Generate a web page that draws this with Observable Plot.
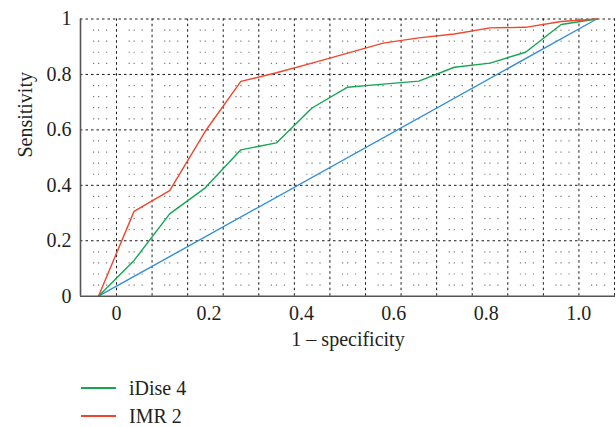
<!DOCTYPE html>
<html>
<head>
<meta charset="utf-8">
<script src="https://cdn.jsdelivr.net/npm/d3@7"></script>
<script src="https://cdn.jsdelivr.net/npm/@observablehq/plot@0.6"></script>
<style>
  html, body { margin: 0; padding: 0; background: #fff; }
  #legend { font-family: "Liberation Serif", serif; font-size: 20px; color: #231f20; margin-left: 81px; padding-top: 9px; }
  .row { display: flex; align-items: center; height: 28px; }
  .sw { display: inline-block; width: 35px; height: 1.5px; margin-right: 13px; }
</style>
</head>
<body>
<div id="chart"></div>
<div id="legend"></div>
<script>
// ---- data ----
const fpr = [-0.039, 0.038, 0.115, 0.192, 0.269, 0.346, 0.423, 0.500, 0.577, 0.654, 0.731, 0.808, 0.885, 0.962, 1.039];
const iDise4 = [0, 0.129, 0.297, 0.391, 0.528, 0.553, 0.679, 0.754, 0.765, 0.776, 0.826, 0.841, 0.880, 0.980, 1.0];
const imr2 = [0, 0.306, 0.381, 0.595, 0.775, 0.806, 0.841, 0.877, 0.913, 0.932, 0.946, 0.968, 0.970, 0.991, 1.0];
const refX = [-0.039, 1.039];
const refY = [0, 1];

const seriesNames = ["iDise 4", "IMR 2"];
const seriesColors = ["#14a653", "#f0462b"];
const refColor = "#2f8fd6";

const xTicks = [0, 0.2, 0.4, 0.6, 0.8, 1.0];
const xTickLabels = ["0", "0.2", "0.4", "0.6", "0.8", "1.0"];
const yTicks = [0, 0.2, 0.4, 0.6, 0.8, 1.0];
const yTickLabels = ["0", "0.2", "0.4", "0.6", "0.8", "1"];
const xLabel = "1 \u2013 specificity";
const yLabel = "Sensitivity";

// ---- build ----
const xDomain = [-0.0779, 1.0796];
const gridX = d3.range(15).map(k => k * 0.07696);
const majorY = [0.2, 0.4, 0.6, 0.8, 1.0];
const minorY = d3.range(1, 25).map(k => k * 0.04).filter(v => Math.abs(v / 0.2 - Math.round(v / 0.2)) > 1e-6);

const toRows = ys => fpr.map((x, i) => ({x, y: ys[i]}));
const refRows = refX.map((x, i) => ({x, y: refY[i]}));

const textColor = "#231f20";

const chart = Plot.plot({
  width: 616,
  height: 365,
  marginLeft: 80,
  marginRight: 1,
  marginTop: 18.5,
  marginBottom: 69.3,
  style: {fontFamily: "'Liberation Serif', serif", fontSize: "20px", color: textColor, background: "#fff"},
  x: {domain: xDomain},
  y: {domain: [0, 1]},
  marks: [
    Plot.ruleY(minorY, {stroke: "#7a7a7a", strokeWidth: 1.2, strokeDasharray: "1.2,3.8,1.2,6.8,1.2,21.37", strokeDashoffset: -13}),
    Plot.ruleX(gridX.slice(1), {y1: 0, y2: 1, stroke: "#1a1a1a", strokeWidth: 1, strokeDasharray: "2.5,3"}),
    Plot.ruleY(majorY, {stroke: "#1a1a1a", strokeWidth: 1, strokeDasharray: "2.5,3"}),
    Plot.ruleX([gridX[0]], {y1: 0, y2: 1, stroke: "#1a1a1a", strokeWidth: 1, strokeDasharray: "2.5,3"}),
    Plot.line(refRows, {x: "x", y: "y", stroke: refColor, strokeWidth: 1.4}),
    Plot.line(toRows(iDise4), {x: "x", y: "y", stroke: seriesColors[0], strokeWidth: 1.4}),
    Plot.line(toRows(imr2), {x: "x", y: "y", stroke: seriesColors[1], strokeWidth: 1.4}),
    Plot.ruleX([xDomain[0]], {y1: 0, y2: 1, stroke: "#555", strokeWidth: 1.6}),
    Plot.ruleY([0], {stroke: "#555", strokeWidth: 1.6}),
    Plot.axisX({ticks: xTicks, tickFormat: (d, i) => xTickLabels[i], tickSize: 0, tickPadding: 10, label: null, fill: textColor}),
    Plot.axisY({ticks: yTicks, tickFormat: (d, i) => yTickLabels[i], tickSize: 0, tickPadding: 9, label: null, fill: textColor}),
    Plot.text([xLabel], {frameAnchor: "bottom", dy: 50, text: d => d, fill: textColor}),
    Plot.text([yLabel], {frameAnchor: "left", dx: -55, rotate: -90, text: d => d, fill: textColor})
  ]
});
document.getElementById("chart").appendChild(chart);

const legend = document.getElementById("legend");
seriesNames.forEach((name, i) => {
  const row = document.createElement("div");
  row.className = "row";
  const sw = document.createElement("span");
  sw.className = "sw";
  sw.style.background = seriesColors[i];
  const label = document.createElement("span");
  label.textContent = name;
  row.appendChild(sw);
  row.appendChild(label);
  legend.appendChild(row);
});
</script>
</body>
</html>
